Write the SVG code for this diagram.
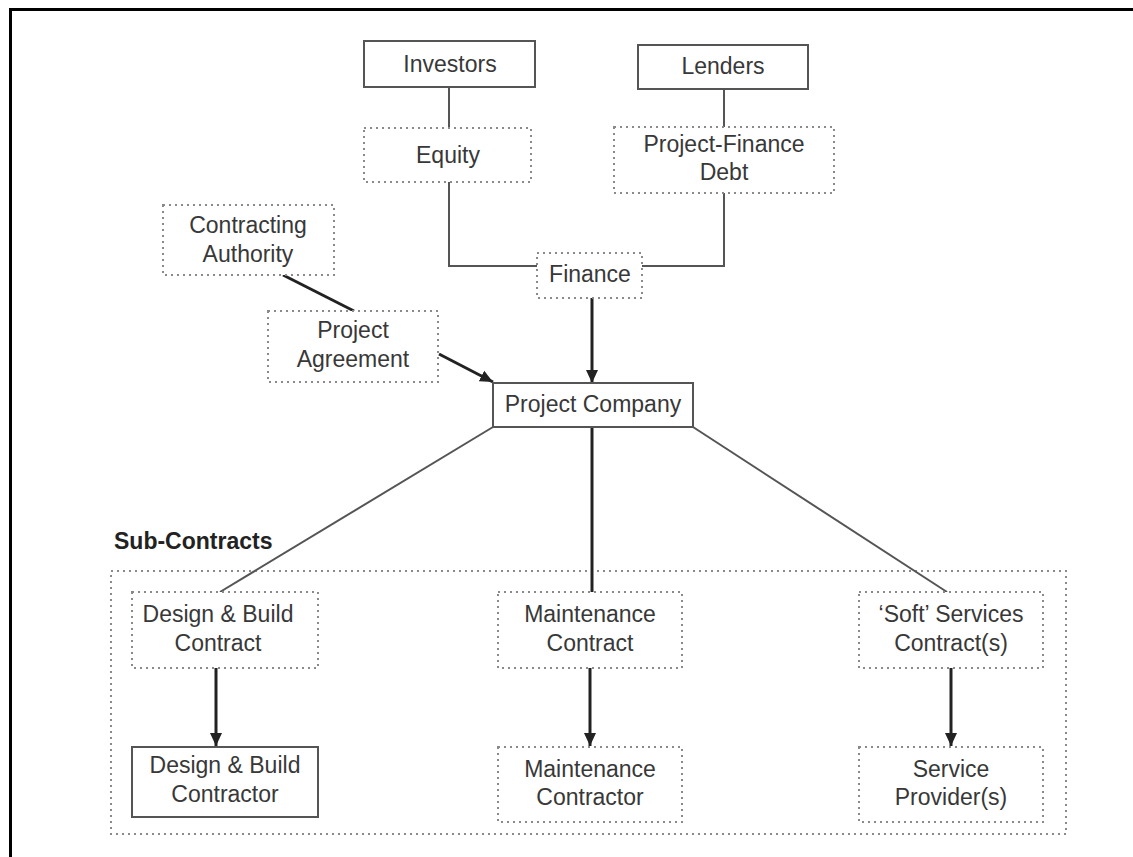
<svg xmlns="http://www.w3.org/2000/svg" width="1133" height="857" viewBox="0 0 1133 857">
<defs>
<marker id="ah" markerUnits="userSpaceOnUse" markerWidth="14" markerHeight="14" viewBox="0 0 14 14" refX="13" refY="7" orient="auto">
<path d="M0,1 L13,7 L0,13 Z" fill="#222"/>
</marker>
<style>
.t{font-family:"Liberation Sans",Arial,sans-serif;font-size:23px;fill:#383838;text-anchor:middle}
.b{font-family:"Liberation Sans",Arial,sans-serif;font-size:23px;font-weight:bold;fill:#222}
.solid{fill:#fff;stroke:#555;stroke-width:2}
.dot{fill:#fff;stroke:#8a8a8a;stroke-width:2;stroke-dasharray:2 4}
.thin{fill:none;stroke:#555;stroke-width:2}
.thick{fill:none;stroke:#222;stroke-width:3}
</style>
</defs>
<rect width="1133" height="857" fill="#fff"/>
<g id="frame">
<path d="M10.5,857 V9.5 H1133" fill="none" stroke="#000" stroke-width="3"/>
</g>
<g id="subcontracts">
<rect x="111" y="571" width="955" height="263" class="dot"/>
<text x="114" y="549" class="b">Sub-Contracts</text>
</g>
<g id="connectors">
<line x1="449" y1="87" x2="449" y2="128" class="thin"/>
<line x1="724" y1="89" x2="724" y2="127" class="thin"/>
<polyline points="449,182 449,266 537,266" class="thin"/>
<polyline points="724,193 724,266 642,266" class="thin"/>
<line x1="592" y1="298" x2="592" y2="383" class="thick" marker-end="url(#ah)"/>
<line x1="283" y1="275" x2="354" y2="311" class="thick"/>
<line x1="439" y1="354" x2="493" y2="382" class="thick" marker-end="url(#ah)"/>
<line x1="493" y1="427" x2="220" y2="592" class="thin"/>
<line x1="592" y1="427" x2="592" y2="592" class="thick"/>
<line x1="693" y1="427" x2="947" y2="592" class="thin"/>
<line x1="216" y1="668" x2="216" y2="746" class="thick" marker-end="url(#ah)"/>
<line x1="590" y1="668" x2="590" y2="746" class="thick" marker-end="url(#ah)"/>
<line x1="951" y1="668" x2="951" y2="746" class="thick" marker-end="url(#ah)"/>
</g>
<g id="investors">
<rect x="364" y="41" width="171" height="46" class="solid"/>
<text x="450" y="72" class="t">Investors</text>
</g>
<g id="lenders">
<rect x="638" y="45" width="170" height="44" class="solid"/>
<text x="723" y="74" class="t">Lenders</text>
</g>
<g id="equity">
<rect x="364" y="128" width="167" height="54" class="dot"/>
<text x="448" y="163" class="t">Equity</text>
</g>
<g id="debt">
<rect x="614" y="127" width="220" height="66" class="dot"/>
<text x="724" y="152" class="t">Project-Finance</text>
<text x="724" y="180" class="t">Debt</text>
</g>
<g id="finance">
<rect x="537" y="253" width="105" height="45" class="dot"/>
<text x="590" y="282" class="t">Finance</text>
</g>
<g id="authority">
<rect x="163" y="205" width="171" height="70" class="dot"/>
<text x="248" y="233" class="t">Contracting</text>
<text x="248" y="262" class="t">Authority</text>
</g>
<g id="agreement">
<rect x="268" y="311" width="170" height="71" class="dot"/>
<text x="353" y="338" class="t">Project</text>
<text x="353" y="367" class="t">Agreement</text>
</g>
<g id="company">
<rect x="493" y="383" width="200" height="44" class="solid"/>
<text x="593" y="412" class="t">Project Company</text>
</g>
<g id="db-contract">
<rect x="132" y="592" width="186" height="76" class="dot"/>
<text x="218" y="622" class="t">Design &amp; Build</text>
<text x="218" y="651" class="t">Contract</text>
</g>
<g id="db-contractor">
<rect x="132" y="747" width="186" height="70" class="solid"/>
<text x="225" y="773" class="t">Design &amp; Build</text>
<text x="225" y="802" class="t">Contractor</text>
</g>
<g id="m-contract">
<rect x="498" y="592" width="184" height="76" class="dot"/>
<text x="590" y="622" class="t">Maintenance</text>
<text x="590" y="651" class="t">Contract</text>
</g>
<g id="m-contractor">
<rect x="498" y="747" width="184" height="75" class="dot"/>
<text x="590" y="777" class="t">Maintenance</text>
<text x="590" y="805" class="t">Contractor</text>
</g>
<g id="s-contract">
<rect x="859" y="592" width="184" height="76" class="dot"/>
<text x="951" y="622" class="t">‘Soft’ Services</text>
<text x="951" y="651" class="t">Contract(s)</text>
</g>
<g id="s-provider">
<rect x="859" y="747" width="184" height="75" class="dot"/>
<text x="951" y="777" class="t">Service</text>
<text x="951" y="805" class="t">Provider(s)</text>
</g>
</svg>
